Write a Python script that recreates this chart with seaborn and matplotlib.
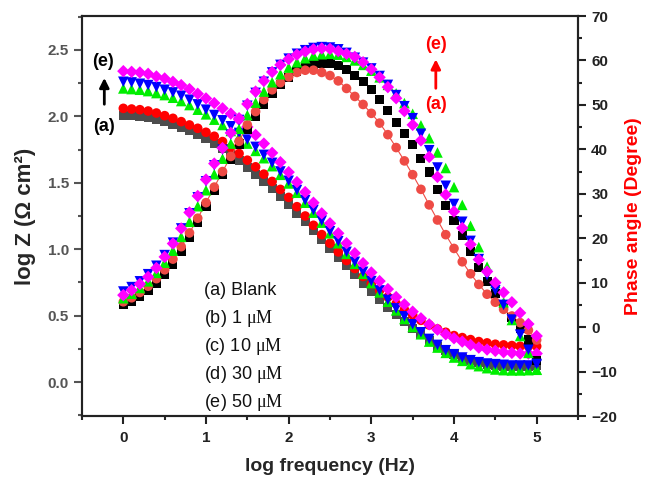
import numpy as np
import pandas as pd
import matplotlib
matplotlib.use("Agg")
import matplotlib.pyplot as plt
from matplotlib.ticker import MultipleLocator
import seaborn as sns

# ---------------- data ----------------
log_freq = [round(0.1 * i, 1) for i in range(51)]

logz_a = [2.01, 2.005, 2.0, 1.99, 1.975, 1.96, 1.94, 1.915, 1.89, 1.86,
          1.83, 1.795, 1.755, 1.71, 1.665, 1.615, 1.565, 1.51, 1.455, 1.395,
          1.335, 1.27, 1.205, 1.14, 1.075, 1.005, 0.94, 0.875, 0.81, 0.745,
          0.685, 0.625, 0.565, 0.51, 0.455, 0.405, 0.355, 0.31, 0.27, 0.235,
          0.205, 0.18, 0.16, 0.145, 0.135, 0.125, 0.12, 0.115, 0.115, 0.12, 0.125]
logz_b = [2.06, 2.055, 2.05, 2.04, 2.025, 2.005, 1.985, 1.96, 1.935, 1.91,
          1.88, 1.85, 1.81, 1.765, 1.72, 1.67, 1.62, 1.565, 1.51, 1.45,
          1.39, 1.32, 1.25, 1.18, 1.11, 1.045, 0.98, 0.915, 0.855, 0.795,
          0.74, 0.69, 0.64, 0.59, 0.545, 0.505, 0.465, 0.43, 0.40, 0.375,
          0.35, 0.335, 0.32, 0.305, 0.295, 0.285, 0.28, 0.275, 0.27, 0.27, 0.27]
logz_c = [2.21, 2.205, 2.20, 2.19, 2.175, 2.16, 2.14, 2.115, 2.085, 2.05,
          2.015, 1.975, 1.935, 1.89, 1.845, 1.795, 1.74, 1.685, 1.625, 1.56,
          1.495, 1.425, 1.35, 1.275, 1.20, 1.12, 1.045, 0.965, 0.89, 0.815,
          0.745, 0.675, 0.605, 0.54, 0.475, 0.415, 0.36, 0.305, 0.26, 0.22,
          0.185, 0.16, 0.135, 0.12, 0.105, 0.095, 0.09, 0.088, 0.088, 0.09, 0.095]
logz_d = [2.26, 2.255, 2.245, 2.235, 2.22, 2.20, 2.18, 2.155, 2.125, 2.09,
          2.05, 2.01, 1.97, 1.925, 1.875, 1.825, 1.77, 1.71, 1.65, 1.585,
          1.515, 1.445, 1.37, 1.295, 1.215, 1.135, 1.06, 0.98, 0.905, 0.83,
          0.76, 0.69, 0.62, 0.555, 0.495, 0.435, 0.375, 0.325, 0.28, 0.24,
          0.21, 0.185, 0.165, 0.15, 0.14, 0.135, 0.13, 0.125, 0.125, 0.125, 0.13]
logz_e = [2.34, 2.335, 2.33, 2.32, 2.30, 2.285, 2.26, 2.235, 2.205, 2.17,
          2.135, 2.10, 2.06, 2.02, 1.975, 1.92, 1.86, 1.795, 1.725, 1.655,
          1.58, 1.505, 1.43, 1.35, 1.27, 1.195, 1.12, 1.045, 0.97, 0.895,
          0.825, 0.76, 0.70, 0.64, 0.585, 0.53, 0.48, 0.435, 0.395, 0.36,
          0.33, 0.305, 0.28, 0.26, 0.245, 0.235, 0.225, 0.22, 0.215, 0.215, 0.215]

phase_a = [5.0, 5.8, 6.9, 8.2, 9.8, 11.8, 14.2, 17.0, 20.2, 23.6,
           27.1, 30.7, 34.3, 37.8, 41.2, 44.4, 47.4, 50.1, 52.5, 54.5,
           56.2, 57.5, 58.5, 59.1, 59.4, 59.3, 58.9, 58.0, 56.7, 55.2,
           53.4, 51.2, 48.7, 46.0, 43.5, 41.0, 38.0, 34.9, 30.9, 27.4,
           24.0, 20.6, 17.0, 13.4, 10.3, 7.5, 4.8, 2.2, -0.4, -2.9, -7.5]
phase_b = [5.7, 6.6, 7.8, 9.2, 10.9, 12.9, 15.3, 18.1, 21.2, 24.5,
           28.0, 31.5, 35.0, 38.4, 41.8, 45.5, 48.5, 51.2, 53.4, 55.0,
           56.3, 57.3, 57.8, 57.8, 57.3, 56.6, 55.4, 53.7, 51.9, 50.1,
           48.1, 45.9, 43.3, 40.4, 37.4, 34.3, 31.0, 27.5, 24.1, 20.8,
           17.7, 14.7, 12.0, 9.6, 7.4, 5.6, 4.0, 2.5, 1.0, -0.7, -2.9]
phase_c = [6.5, 7.5, 8.8, 10.3, 12.2, 14.5, 17.2, 20.3, 23.7, 27.2,
           30.8, 34.4, 37.9, 41.3, 44.6, 47.7, 50.5, 53.0, 55.1, 56.9,
           58.4, 59.6, 60.5, 61.1, 61.4, 61.5, 61.3, 60.8, 60.0, 59.0,
           57.7, 56.2, 54.5, 52.6, 50.4, 48.0, 45.4, 42.5, 39.3, 35.8,
           31.5, 27.5, 22.8, 18.0, 13.6, 9.9, 5.6, 1.6, -2.0, -5.8, -9.6]
phase_d = [8.0, 9.0, 10.3, 11.9, 13.8, 16.2, 19.0, 22.2, 25.6, 29.2,
           32.8, 36.4, 39.9, 43.3, 46.6, 49.8, 52.7, 55.2, 57.3, 59.0,
           60.4, 61.5, 62.3, 62.8, 63.0, 62.9, 62.5, 61.7, 60.6, 59.5,
           58.2, 56.5, 54.5, 52.2, 49.7, 47.0, 43.5, 39.8, 35.9, 31.8,
           27.7, 23.7, 19.4, 15.3, 11.7, 8.3, 5.0, 1.7, -1.7, -5.1, -8.3]
phase_e = [7.2, 8.3, 9.7, 11.3, 13.3, 15.8, 18.8, 22.2, 25.8, 29.5,
           33.2, 36.8, 40.3, 43.7, 47.0, 50.2, 53.0, 55.4, 57.4, 59.0,
           60.3, 61.3, 62.0, 62.5, 62.7, 62.6, 62.1, 61.5, 60.8, 59.6,
           58.0, 56.2, 54.0, 51.5, 48.6, 45.5, 42.0, 38.3, 33.8, 29.8,
           26.0, 22.3, 18.6, 15.2, 12.5, 10.0, 7.8, 5.6, 3.2, 0.7, -2.0]

legend_lines = ["(a) Blank", "(b) 1 $\\mathrm{μM}$", "(c) 10 $\\mathrm{μM}$",
                "(d) 30 $\\mathrm{μM}$", "(e) 50 $\\mathrm{μM}$"]

# ---------------- style ----------------
sns.set_style("ticks")
plt.rcParams["font.family"] = ["Liberation Sans", "DejaVu Sans"]
plt.rcParams["mathtext.fontset"] = "custom"
plt.rcParams["mathtext.rm"] = "Liberation Serif"
plt.rcParams["mathtext.it"] = "Liberation Serif:italic"
plt.rcParams["mathtext.bf"] = "Liberation Sans:bold"

fig = plt.figure(figsize=(6.49, 4.80), dpi=100)
ax = fig.add_axes([82 / 649, 1 - 416 / 480, (578 - 82) / 649, (416 - 16) / 480])
ax2 = ax.twinx()

df = pd.DataFrame({"logf": log_freq})

logz_specs = [
    (logz_a, "#4d4d4d", "s", 42),
    (logz_b, "#ff0000", "o", 48),
    (logz_c, "#00ee00", "^", 58),
    (logz_d, "#0000ff", "v", 58),
    (logz_e, "#ff00ff", "D", 40),
]
for vals, col, mk, sz in logz_specs:
    sns.scatterplot(x=df["logf"], y=vals, ax=ax, color=col, marker=mk, s=sz,
                    edgecolor="none", linewidth=0, legend=False, zorder=3)

phase_specs = [
    (phase_a, "#000000", "s", 42),
    (phase_b, "#ee4b45", "o", 48),
    (phase_c, "#00ee00", "^", 58),
    (phase_d, "#0000ff", "v", 58),
    (phase_e, "#ff00ff", "D", 40),
]
sns.lineplot(x=df["logf"], y=phase_b, ax=ax2, color="#ee4b45", lw=0.8,
             legend=False, zorder=2)
for vals, col, mk, sz in phase_specs:
    sns.scatterplot(x=df["logf"], y=vals, ax=ax2, color=col, marker=mk, s=sz,
                    edgecolor="none", linewidth=0, legend=False, zorder=3)

# ---------------- axes ----------------
ax.set_xlim(-0.5, 5.5)
ax.set_ylim(-0.255, 2.755)
ax2.set_ylim(-20, 70)

ax.xaxis.set_major_locator(MultipleLocator(1))
ax.xaxis.set_minor_locator(MultipleLocator(0.5))
ax.yaxis.set_major_locator(MultipleLocator(0.5))
ax.yaxis.set_minor_locator(MultipleLocator(0.25))
ax2.yaxis.set_major_locator(MultipleLocator(10))
ax2.yaxis.set_minor_locator(MultipleLocator(5))

for a in (ax, ax2):
    for sp in a.spines.values():
        sp.set_linewidth(1.5)
        sp.set_color("#222222")
        sp.set_visible(True)

ax.spines["left"].set_color("#555555")
ax.tick_params(axis="x", which="major", direction="out", length=6, width=1.5,
               labelsize=11, pad=5, colors="#222222", top=False)
ax.tick_params(axis="x", which="minor", direction="out", length=3, width=1.5, top=False)
ax.tick_params(axis="y", which="major", direction="out", length=6, width=1.5,
               labelsize=11, colors="#555555")
ax.tick_params(axis="y", which="minor", direction="out", length=3, width=1.5,
               colors="#555555")
ax2.tick_params(axis="y", which="major", direction="out", length=6, width=1.5,
                labelsize=11, colors="#222222")
ax2.tick_params(axis="y", which="minor", direction="out", length=3, width=1.5,
                colors="#222222")

for lab in ax.get_xticklabels() + ax.get_yticklabels() + ax2.get_yticklabels():
    lab.set_fontweight("bold")

ax.set_xlabel("log frequency (Hz)", fontsize=14, fontweight="bold", labelpad=9)
ax.set_ylabel("log Z (Ω cm²)", fontsize=16, fontweight="bold", labelpad=8)
ax2.set_ylabel("Phase angle (Degree)", fontsize=14, fontweight="bold",
               color="#ff0000", labelpad=6)

# ---------------- annotations ----------------
for i, t in enumerate(legend_lines):
    ax.text(0.98, 0.69 - i * 0.21, t, fontsize=13, color="#111111",
            ha="left", va="center", zorder=5)

ax.text(-0.24, 2.41, "(e)", fontsize=13, fontweight="bold", ha="center",
        va="center", color="black")
ax.text(-0.23, 1.92, "(a)", fontsize=13, fontweight="bold", ha="center",
        va="center", color="black")
ax.annotate("", xy=(-0.23, 2.31), xytext=(-0.23, 2.07),
            arrowprops=dict(arrowstyle="-|>", color="black", lw=2,
                            mutation_scale=14))

ax.text(3.78, 2.54, "(e)", fontsize=13, fontweight="bold", ha="center",
        va="center", color="#ff0000")
ax.text(3.78, 2.09, "(a)", fontsize=13, fontweight="bold", ha="center",
        va="center", color="#ff0000")
ax.annotate("", xy=(3.78, 2.45), xytext=(3.78, 2.19),
            arrowprops=dict(arrowstyle="-|>", color="#ff0000", lw=2,
                            mutation_scale=14))

fig.savefig("out.png", dpi=100)
